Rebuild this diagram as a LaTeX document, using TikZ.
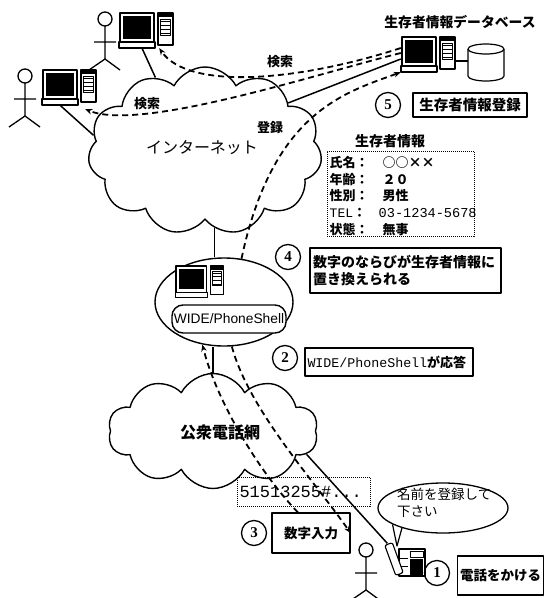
\documentclass[tikz,border=0pt]{standalone}
\usepackage{fontspec}
\setmainfont{Noto Sans CJK JP}
\newfontfamily\monof{Liberation Mono}
\newfontfamily\arialf{Liberation Sans}
\newfontfamily\numf{Liberation Serif}
\usetikzlibrary{shapes.geometric,shapes.symbols,arrows.meta,calc}

% desktop computer: monitor, keyboard strip and tower; #1 name, #2/#3 top-left corner, #4 scale
\newcommand\pcicon[4]{%
  \begin{scope}[shift={(#2,#3)}, scale=#4]
    \draw[line width=1.1, fill=white] (0,0) rectangle (34,29);
    \fill (3,3) rectangle (31,26);
    \draw[line width=1.1, fill=white] (-1,29) rectangle (35,35);
    \draw[line width=1.1, fill=white] (38,0) rectangle (53,32);
    \fill (38,0) rectangle (53,4);
    \foreach \yy in {8,12,16,20} \draw[line width=1] (40.5,\yy) -- (50.5,\yy);
    \draw[line width=0.8] (40.5,6) rectangle (50.5,22);
    \node[inner sep=0pt, minimum width=36*#4, minimum height=35*#4] (#1) at (17,17.5) {};
    \node[inner sep=0pt, minimum width=15*#4, minimum height=32*#4] (#1t) at (45.5,16) {};
  \end{scope}}

% stick figure; #1/#2 centre of the head
\newcommand\stickman[2]{%
  \begin{scope}[shift={(#1,#2)}, line width=1.3]
    \draw (0,0) circle[radius=7];
    \draw (0,7) -- (0,40) (-11,23) -- (11,23) (-16,51) -- (0,40) -- (15,51);
  \end{scope}}

\begin{document}
\begin{tikzpicture}[x=1pt,y=-1pt, line join=round,
  wire/.style={line width=1.5},
  dashwire/.style={line width=1.8, dash pattern=on 6pt off 4pt},
  tip/.style={-{Stealth[length=7pt,width=5.5pt]}},
  lbox/.style={draw, line width=1.1, inner sep=0pt, align=left},
  dotbox/.style={draw, line width=1, densely dotted, inner sep=0pt},
  numc/.style={circle, draw, line width=1.3, minimum size=25pt, inner sep=0pt,
    font=\numf\bfseries\fontsize{15}{15}\selectfont},
  cloudshape/.style={cloud, draw, line width=1.4, cloud ignores aspect, inner sep=0pt},
  lab/.style={inner sep=0pt, font=\bfseries\fontsize{13}{15}\selectfont},
]
\fill[white] (0,0) rectangle (544,598);
\useasboundingbox (0,0) rectangle (544,598);

% --- Internet side ---
\node[cloudshape, cloud puffs=11, cloud puff arc=125, minimum width=234pt, minimum height=168pt] (inet) at (205,151) {};
\node[inner sep=0pt, font=\fontsize{16}{18}\selectfont] (inetlab) at (202,148) {インターネット};
\node[lab] (search1) at (147,104) {検索};
\node[lab] (search2) at (280,62) {検索};
\node[lab] (regist) at (270,128) {登録};

\stickman{105}{19}
\stickman{25}{76}
\pcicon{pcTop}{120}{13}{1}
\pcicon{pcLeft}{43}{70}{1}

% survivor database
\node[inner sep=0pt, font=\bfseries\fontsize{13.8}{16}\selectfont] (dbtitle) at (460,22) {生存者情報データベース};
\pcicon{pcDB}{402}{37}{1}
\draw[line width=1.2, fill=white] (468,49) -- (468,76) arc[start angle=180, end angle=360, x radius=18pt, y radius=5pt] -- (504,49);
\draw[line width=1.2] (486,49) ellipse[x radius=18pt, y radius=5pt];
\node[inner sep=0pt, minimum width=36pt, minimum height=32pt] (db) at (486,61) {};
\draw[wire] (pcDBt.east |- db.west) -- (db.west);

\node[numc] (n5) at (388,105) {5};
\node[lbox, minimum width=114pt, minimum height=24pt, font=\bfseries\fontsize{14.5}{16}\selectfont] (b5) at (470,105) {生存者情報登録};

\node[inner sep=0pt, font=\bfseries\fontsize{14}{16}\selectfont] (infotitle) at (390,141) {生存者情報};
\node[dotbox, minimum width=147pt, minimum height=85pt] (info) at (400.5,193.5) {};
\node[anchor=north west, inner sep=0pt, align=left,
  font=\bfseries\fontsize{13}{16.7}\selectfont] (infotext) at (329.5,156) {%
  \makebox[53pt][l]{氏名：}○○××\\
  \makebox[53pt][l]{年齢：}２０\\
  \makebox[53pt][l]{性別：}男性\\
  \makebox[49pt][l]{{\monof\mdseries TEL}：}{\monof\mdseries\fontsize{13.6}{16.7}\selectfont 03-1234-5678}\\
  \makebox[53pt][l]{状態：}無事};

% --- WIDE/PhoneShell ---
\node[ellipse, draw, line width=1.4, minimum width=138pt, minimum height=88pt, inner sep=0pt] (wide) at (224,302) {};
\pcicon{pcWide}{176}{266}{0.9}
\node[draw, line width=1.4, rounded corners=11pt, minimum width=114pt, minimum height=28pt, inner sep=0pt,
  fill=white, font=\arialf\fontsize{13.8}{16}\selectfont] (ps) at (229,319) {WIDE/PhoneShell};

\node[numc] (n4) at (288,257) {4};
\node[lbox, minimum width=191pt, minimum height=45pt, text width=185pt,
  font=\bfseries\fontsize{14}{17.5}\selectfont] (b4) at (405.5,270.5) {数字のならびが生存者情報に\\置き換えられる};

\node[numc] (n2) at (285,358) {2};
\node[lbox, minimum width=168pt, minimum height=28pt, text width=163pt,
  font=\bfseries\fontsize{13}{16}\selectfont] (b2) at (389,362) {{\monof\mdseries\fontsize{13.3}{16}\selectfont WIDE/PhoneShell}が応答};

% --- public telephone network ---
\node[cloudshape, cloud puffs=10, cloud puff arc=125, minimum width=210pt, minimum height=115pt] (pstn) at (213,431) {};
\node[inner sep=0pt, font=\bfseries\fontsize{16}{18}\selectfont] (pstnlab) at (220,432) {公衆電話網};

\node[dotbox, minimum width=133pt, minimum height=29pt, text width=128pt, align=left,
  font=\monof\fontsize{17}{19}\selectfont] (digits) at (303.5,491.5) {51513255\#...};

\node[numc] (n3) at (254,533) {3};
\node[lbox, minimum width=78pt, minimum height=40pt, font=\bfseries\fontsize{13.5}{16}\selectfont] (inp) at (311,533) {数字入力};

% caller, phone and voice prompt
\stickman{366}{550}
\node[inner sep=0pt, minimum width=37pt, minimum height=33pt] (phone) at (406,560) {};
\draw[line width=1.1, fill=white] (399,549) rectangle (425,576);
\draw[line width=0.9] (410,551) rectangle (423,557);
\fill (410,559) rectangle (423,575);
\draw[line width=0.9] (400,558) -- (408,558) (400,566) -- (408,566);
\draw[line width=1.1, fill=white, rounded corners=2pt, rotate around={20:(394,559)}] (390,543) rectangle (398,575);

\node[ellipse, draw, line width=1.3, minimum width=130pt, minimum height=50pt, inner sep=0pt] (bubble) at (443,508) {};
\node[anchor=north west, inner sep=0pt, align=left, font=\fontsize{13.5}{17}\selectfont] (bubtext) at (397,488) {名前を登録して\\下さい};
\coordinate (tailtip) at (397,546);
\draw[line width=1.2] (bubble.198) -- (tailtip) -- (bubble.206);

\node[numc] (n1) at (437,573) {1};
\node[lbox, minimum width=86pt, minimum height=39pt, font=\bfseries\fontsize{13.5}{16}\selectfont] (b1) at (500.5,575.5) {電話をかける};

% --- solid links ---
\draw[wire] ([xshift=5pt]pcTop.south) -- (inet.124);
\draw[wire] (pcLeft.south) -- (inet.172);
\draw[wire] (inet.30) -- ([yshift=-4.5pt]pcDB.west);
\draw[wire] (inet.277) -- (inet.277 |- wide.north);
\draw[wire] (pstn.north) -- (pstn.north |- wide.south);
\draw[wire] (pstn.346) -- (phone.north west);

% --- dashed message flows ---
\draw[dashwire, tip] ([yshift=6.5pt]pcDB.west) .. controls +(198:107pt) and +(305:52pt) .. ([xshift=4pt]pcTop.south east);
\draw[dashwire, tip] ([yshift=1.5pt]pcDB.west) .. controls +(194:90pt) and +(338:60pt) .. ([shift={(7pt,-4pt)}]pcLeft.south east);
\draw[dashwire, tip] (wide.68) .. controls +(78:150pt) and +(200:60pt) .. (pcDB.south west);
\draw[dashwire, tip] ([xshift=-13pt]inp.north) .. controls +(134:57pt) and +(284:57pt) .. (wide.243);
\draw[dashwire, tip] (wide.280) .. controls +(285:65pt) and +(125:65pt) .. (inp.east);
\end{tikzpicture}
\end{document}
